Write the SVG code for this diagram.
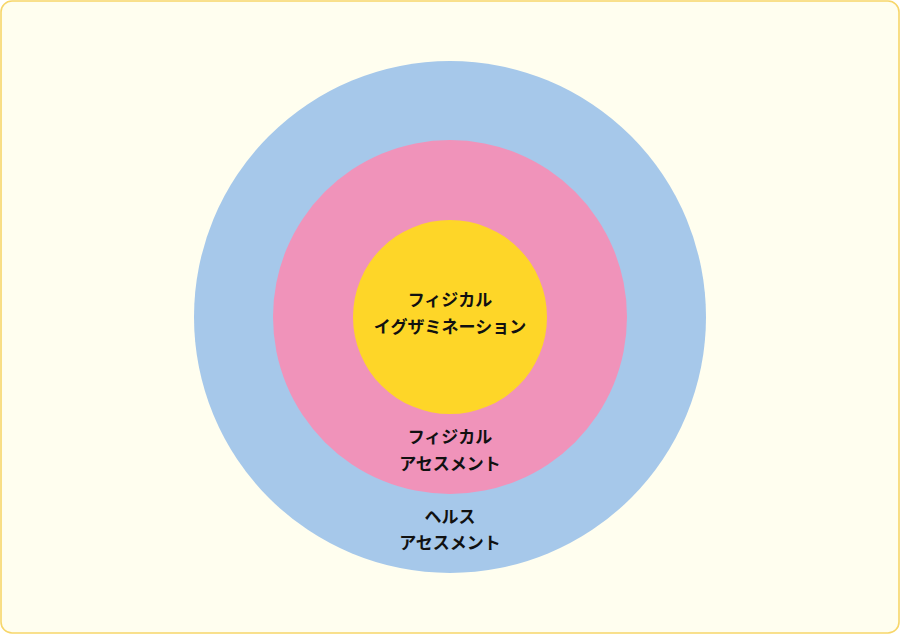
<svg xmlns="http://www.w3.org/2000/svg" width="900" height="634" viewBox="0 0 900 634">
<style>
.lbl{font-family:"Noto Sans CJK JP","Noto Sans",sans-serif;font-size:17px;font-weight:bold;fill:#111;text-anchor:middle}
</style>
<rect x="1" y="1" width="898" height="632" rx="11" ry="11" fill="#FFFEEF" stroke="#F7D66A" stroke-width="1.6"/>
<g id="health">
<circle cx="450" cy="317" r="256" fill="#A6C8EA"/>
<text class="lbl" x="450" y="523">ヘルス</text>
<text class="lbl" x="450" y="549">アセスメント</text>
</g>
<g id="physical-assessment">
<circle cx="450" cy="317" r="177" fill="#F093BA"/>
<text class="lbl" x="450" y="443">フィジカル</text>
<text class="lbl" x="450" y="470">アセスメント</text>
</g>
<g id="physical-exam">
<circle cx="450" cy="317" r="97" fill="#FED628"/>
<text class="lbl" x="450" y="306">フィジカル</text>
<text class="lbl" x="450" y="333">イグザミネーション</text>
</g>
<g id="connectors"/>
</svg>
